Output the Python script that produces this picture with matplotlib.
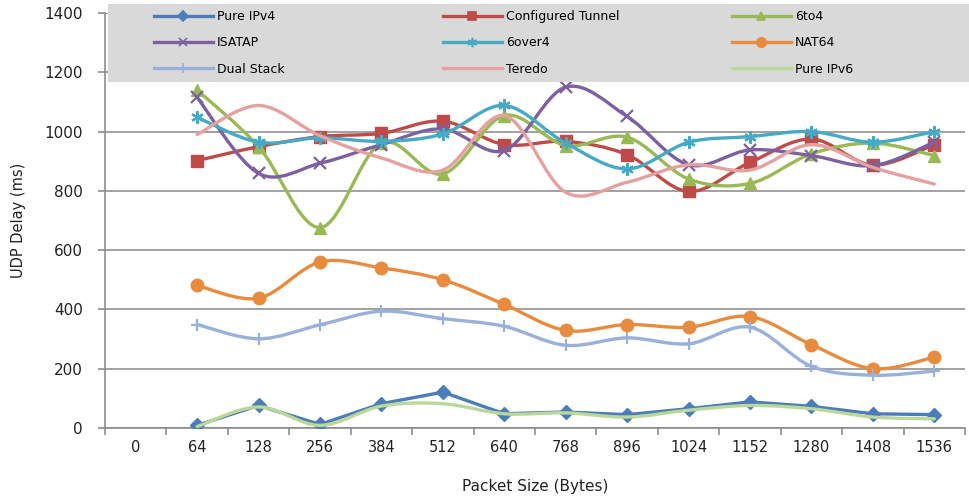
import numpy as np
import matplotlib
matplotlib.use("Agg")
import matplotlib.pyplot as plt
from matplotlib.path import Path
from matplotlib.patches import PathPatch, Rectangle
from matplotlib.lines import Line2D

plt.rcParams['font.family'] = ['DejaVu Sans']

categories = ["0", "64", "128", "256", "384", "512", "640", "768", "896",
              "1024", "1152", "1280", "1408", "1536"]

# values for categories 64 .. 1536 (category "0" has no data)
pure_ipv4 = [9, 76, 12, 82, 121, 48, 54, 45, 65, 88, 73, 48, 45]
configured_tunnel = [902, 949, 983, 994, 1035, 956, 967, 922, 798, 896, 975, 887, 956]
sixto4 = [1140, 949, 676, 962, 857, 1054, 953, 981, 840, 825, 925, 961, 919]
isatap = [1115, 859, 893, 956, 1009, 936, 1150, 1051, 888, 938, 919, 885, 964]
sixover4 = [1048, 964, 979, 967, 992, 1088, 961, 874, 964, 983, 1000, 964, 1000]
nat64 = [481, 438, 560, 540, 500, 417, 329, 349, 340, 376, 281, 200, 239]
dual_stack = [349, 301, 348, 394, 369, 343, 279, 304, 284, 340, 208, 178, 192]
teredo = [990, 1088, 986, 911, 870, 1054, 795, 829, 888, 870, 956, 879, 823]
pure_ipv6 = [5, 71, 9, 74, 82, 48, 51, 37, 60, 76, 65, 37, 31]

series = [
    ("Pure IPv4", pure_ipv4, "#4A7DBA", "D", 7, False),
    ("Configured Tunnel", configured_tunnel, "#BE4B48", "s", 8, True),
    ("6to4", sixto4, "#98B954", "^", 8, True),
    ("ISATAP", isatap, "#7D60A0", "x", 8, True),
    ("6over4", sixover4, "#46AAC5", (6, 2, 0), 9, True),
    ("NAT64", nat64, "#E98B3E", "o", 9, True),
    ("Dual Stack", dual_stack, "#98B0DA", "+", 9, True),
    ("Teredo", teredo, "#E4A1A0", None, 0, True),
    ("Pure IPv6", pure_ipv6, "#BCD898", None, 0, True),
]

W, H = 969, 499
fig = plt.figure(figsize=(W / 100, H / 100), dpi=100)
ax = fig.add_axes([105 / W, 71 / H, 860 / W, 415 / H])

def smooth_path(xs, ys):
    pts = np.column_stack([xs, ys]).astype(float)
    n = len(pts)
    verts = [pts[0]]
    codes = [Path.MOVETO]
    for i in range(n - 1):
        p0 = pts[i - 1] if i > 0 else pts[i]
        p1 = pts[i]
        p2 = pts[i + 1]
        p3 = pts[i + 2] if i + 2 < n else pts[i + 1]
        c1 = p1 + (p2 - p0) / 6.0
        c2 = p2 - (p3 - p1) / 6.0
        verts += [c1, c2, p2]
        codes += [Path.CURVE4] * 3
    return Path(verts, codes)

xs = np.arange(1, len(categories))
handles = []
for z, (name, vals, color, marker, ms, smooth) in enumerate(series):
    zo = 3 + z * 0.1
    if smooth:
        p = smooth_path(xs, vals)
        patch = PathPatch(p, facecolor="none", edgecolor=color, lw=2.4,
                          transform=ax.transData, zorder=zo,
                          capstyle="round", joinstyle="round")
        ax.add_patch(patch)
    else:
        ax.plot(xs, vals, color=color, lw=2.4, zorder=zo,
                solid_joinstyle="round", solid_capstyle="round")
    if marker is not None:
        mew = 1.6 if marker in ("x", "+", (6, 2, 0)) else 1.0
        ax.plot(xs, vals, linestyle="none", marker=marker, markersize=ms,
                color=color, markeredgecolor=color, markeredgewidth=mew,
                zorder=zo + 0.05)
    handles.append(Line2D([], [], color=color, lw=2.4, marker=marker,
                          markersize=ms * 0.75 if marker else 0,
                          markeredgewidth=1.2, label=name))

ax.set_xlim(-0.5, len(categories) - 0.5)
ax.set_ylim(0, 1400)
ax.set_yticks(np.arange(0, 1401, 200))
ax.set_xticks(np.arange(len(categories)))
ax.set_xticklabels(categories)
ax.set_xticks(np.arange(-0.5, len(categories), 1.0), minor=True)

ax.grid(axis="y", color="#9A9A9A", lw=1.3, zorder=1)
ax.set_axisbelow(True)
for s in ("top", "right"):
    ax.spines[s].set_visible(False)
for s in ("left", "bottom"):
    ax.spines[s].set_color("#8C8C8C")
    ax.spines[s].set_linewidth(1.2)

ax.tick_params(axis="x", which="major", length=0, pad=9, labelsize=10.5,
               colors="#8C8C8C", labelcolor="#222222")
ax.tick_params(axis="x", which="minor", length=5, width=1.2, color="#8C8C8C")
ax.tick_params(axis="y", which="major", length=5, width=1.2, color="#8C8C8C",
               pad=11, labelsize=11, labelcolor="#222222")

ax.set_xlabel("Packet Size (Bytes)", fontsize=11, color="#222222", labelpad=17)
ax.set_ylabel("UDP Delay (ms)", fontsize=10.5, color="#222222", labelpad=13)

# legend background box
fig.add_artist(Rectangle((108 / W, 1 - 82 / H), 861 / W, 78 / H,
                         transform=fig.transFigure, facecolor="#D9D9D9",
                         edgecolor="none", zorder=5))

col_x = [154, 443, 732]
for c in range(3):
    hs = [handles[c], handles[c + 3], handles[c + 6]]
    leg = fig.legend(handles=hs, loc="upper left",
                     bbox_to_anchor=(col_x[c] / W, 1 - 10 / H),
                     frameon=False, ncol=1, fontsize=9,
                     handlelength=4.7, handletextpad=0.35,
                     labelspacing=1.07, borderpad=0, borderaxespad=0)
    leg.set_zorder(6)

fig.savefig("out.png", dpi=100)
